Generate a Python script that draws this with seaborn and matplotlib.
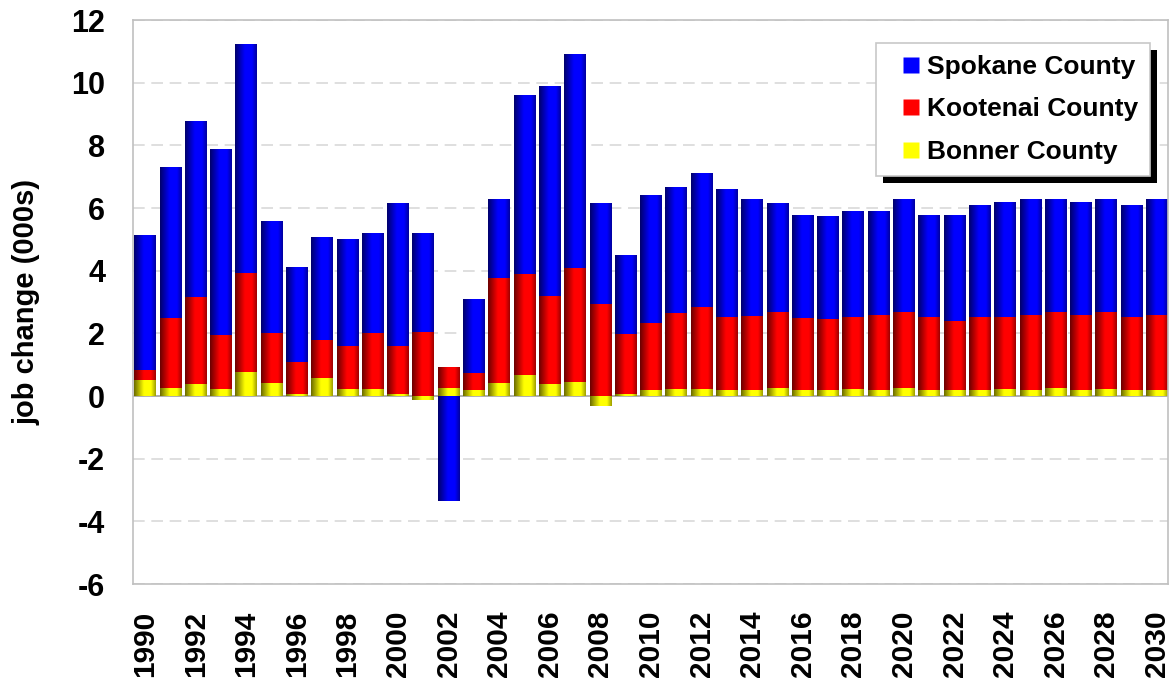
import numpy as np
import pandas as pd
import matplotlib
matplotlib.use("Agg")
import matplotlib.pyplot as plt
from matplotlib.colors import LinearSegmentedColormap
from matplotlib.patches import Rectangle
from matplotlib.lines import Line2D
from matplotlib.transforms import IdentityTransform
import seaborn as sns

years = list(range(1990, 2031))
spokane = [5.14, 7.32, 8.79, 7.89, 11.22, 5.59, 4.12, 5.08, 5.01, 5.21,
           6.17, 5.21, -3.36, 3.09, 6.29, 9.62, 9.88, 10.90, 6.17, 4.50,
           6.42, 6.68, 7.13, 6.61, 6.29, 6.17, 5.78, 5.73, 5.92, 5.92,
           6.30, 5.79, 5.79, 6.11, 6.18, 6.30, 6.30, 6.18, 6.30, 6.11, 6.30]
kootenai = [0.82, 2.50, 3.16, 1.94, 3.93, 2.01, 1.08, 1.78, 1.60, 2.01,
            1.60, 2.04, 0.92, 0.73, 3.78, 3.90, 3.19, 4.09, 2.93, 1.97,
            2.33, 2.65, 2.84, 2.52, 2.56, 2.68, 2.50, 2.45, 2.53, 2.57,
            2.69, 2.51, 2.38, 2.53, 2.53, 2.57, 2.69, 2.57, 2.69, 2.53, 2.57]
bonner = [0.50, 0.25, 0.37, 0.21, 0.77, 0.41, 0.05, 0.57, 0.21, 0.21,
          0.05, -0.12, 0.25, 0.18, 0.41, 0.66, 0.37, 0.44, -0.33, 0.05,
          0.18, 0.21, 0.21, 0.18, 0.18, 0.25, 0.18, 0.18, 0.21, 0.18,
          0.26, 0.19, 0.19, 0.19, 0.22, 0.19, 0.26, 0.19, 0.22, 0.19, 0.19]
series_names = ["Spokane County", "Kootenai County", "Bonner County"]
y_ticks = list(range(-6, 13, 2))
ylabel = "job change (000s)"

df = pd.DataFrame({"year": [str(y) for y in years],
                   "Spokane County": spokane,
                   "Kootenai County": kootenai,
                   "Bonner County": bonner})

sns.set_theme(style="white")
plt.rcParams["font.family"] = ["Liberation Sans", "DejaVu Sans"]
plt.rcParams["font.weight"] = "bold"
plt.rcParams["text.color"] = "black"
plt.rcParams["axes.labelcolor"] = "black"
plt.rcParams["xtick.color"] = "black"
plt.rcParams["ytick.color"] = "black"

fig = plt.figure(figsize=(11.72, 6.81), dpi=100)
ax = fig.add_axes([133/1172, 1 - 584/681, (1168-133)/1172, (584-20)/681])

base = {"Spokane County": (0, 0, 1), "Kootenai County": (1, 0, 0), "Bonner County": (1, 1, 0)}
order = [str(y) for y in years]
bar_w = 0.86
n_before = 0
groups = {}
for name in series_names:
    sns.barplot(data=df, x="year", y=name, order=order, color=base[name],
                width=bar_w, saturation=1, ax=ax, zorder=2, linewidth=0)
    groups[name] = ax.patches[n_before:]
    n_before = len(ax.patches)

# cylindrical shading on each bar
grad = np.linspace(0, 1, 64).reshape(1, -1)
for name, patches in groups.items():
    r, g, b = base[name]
    cmap = LinearSegmentedColormap.from_list(
        name,
        [(0.0, (r*0.42, g*0.42, b*0.42)),
         (0.45, (r, g, b)),
         (0.78, (r, g, b)),
         (1.0, (r*0.62, g*0.62, b*0.62))])
    for p in patches:
        x0 = p.get_x(); w = p.get_width()
        y0 = p.get_y(); h = p.get_height()
        if h == 0:
            continue
        im = ax.imshow(grad, extent=[x0, x0 + w, min(y0, y0+h), max(y0, y0+h)],
                       cmap=cmap, aspect="auto", zorder=p.get_zorder() + 0.01,
                       interpolation="bilinear")
        im.set_clip_path(p)

ax.set_xlim(-0.48, 40.44)
ax.set_ylim(-6, 12)
ax.set_yticks(y_ticks)
ax.set_yticklabels([str(t) for t in y_ticks], fontsize=22, fontweight="bold", color="black")
xt = list(range(0, 41, 2))
ax.set_xticks(xt)
ax.set_xticklabels([order[i] for i in xt], rotation=90, fontsize=21.5,
                   fontweight="bold", color="black")
ax.tick_params(axis="both", length=0)
ax.tick_params(axis="y", pad=20)
ax.tick_params(axis="x", pad=19)
ax.set_xlabel("")
ax.set_ylabel(ylabel, fontsize=21, fontweight="bold", labelpad=22, color="black")

ax.yaxis.grid(True, color="#d9d9d9", linestyle=(0, (7, 4)), linewidth=1.2, zorder=0)
ax.set_axisbelow(True)
ax.axhline(0, color="#a6a6a6", linewidth=1.2, zorder=1.5)
for s in ax.spines.values():
    s.set_visible(True)
    s.set_color("#c0c0c0")
    s.set_linewidth(1.2)

handles = [Line2D([0], [0], linestyle="none", marker="s", markersize=11,
                  markerfacecolor=base[n], markeredgecolor="none", label=n)
           for n in series_names]
leg = ax.legend(handles=handles, loc="upper right", bbox_to_anchor=(0.983, 0.959),
                borderaxespad=0, frameon=True, fancybox=False, framealpha=1,
                edgecolor="#c8c8c8", facecolor="white",
                prop={"size": 19, "weight": "bold"}, numpoints=1,
                handlelength=1.75, handletextpad=-0.25,
                labelspacing=0.7, borderpad=0.45)
leg.get_frame().set_linewidth(1.2)
leg.set_zorder(10)
for t in leg.get_texts():
    t.set_color("black")
fig.canvas.draw()
bb = leg.get_window_extent()
shadow = Rectangle((bb.x0 + 7, bb.y0 - 7), bb.width, bb.height,
                   transform=IdentityTransform(), facecolor="black",
                   edgecolor="none", zorder=9, clip_on=False)
ax.add_artist(shadow)

fig.savefig("out.png", dpi=100)
